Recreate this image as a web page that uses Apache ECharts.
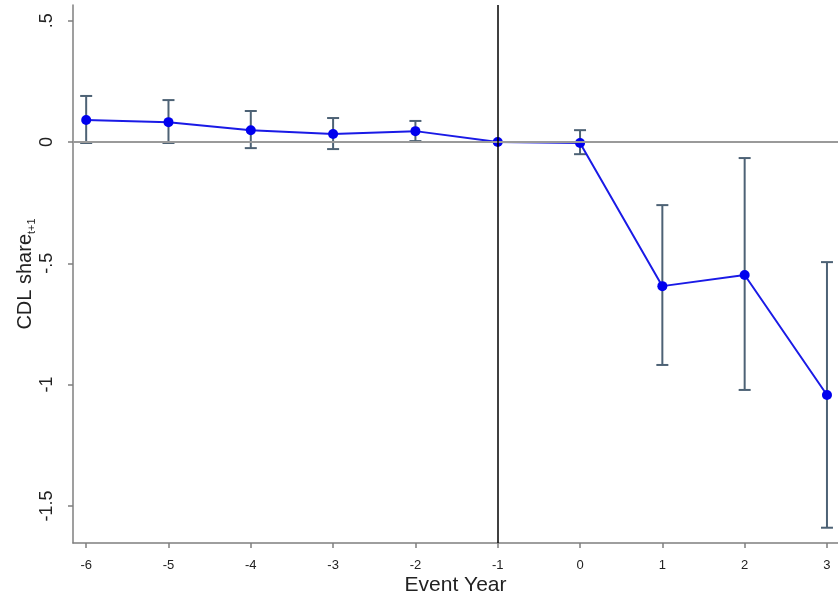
<!DOCTYPE html>
<html>
<head>
<meta charset="utf-8">
<script src="https://cdn.jsdelivr.net/npm/echarts@6/dist/echarts.min.js"></script>
<style>
html, body { margin: 0; padding: 0; background: #fff; }
#chart { width: 838px; height: 599px; }
</style>
</head>
<body>
<div id="chart"></div>
<script>
var years = [-6, -5, -4, -3, -2, -1, 0, 1, 2, 3];
var estimates = [0.091, 0.082, 0.049, 0.033, 0.045, 0, -0.004, -0.594, -0.548, -1.043];
var ciHigh = [0.190, 0.173, 0.128, 0.099, 0.087, null, 0.049, -0.260, -0.066, -0.495];
var ciLow = [-0.004, -0.004, -0.025, -0.029, 0.004, null, -0.050, -0.919, -1.022, -1.590];
var yTicks = [-1.5, -1, -0.5, 0, 0.5];

var font = 'Liberation Sans, Arial, Helvetica, sans-serif';

var ciData = [];
for (var i = 0; i < years.length; i++) {
    if (ciHigh[i] !== null) ciData.push([years[i], ciLow[i], ciHigh[i]]);
}

// stata style: .5 instead of 0.5
function stataNum(v) {
    var s = String(v);
    return s.replace(/^0\./, '.').replace(/^-0\./, '-.');
}

var myChart = echarts.init(document.getElementById('chart'));
var option = {
    animation: false,
    backgroundColor: '#fff',
    grid: {
        left: 73,
        right: 0,
        top: 5,
        bottom: 56,
        outerBoundsMode: 'none',
        containLabel: false
    },
    xAxis: {
        type: 'value',
        min: -6.16,
        max: 3.134,
        name: 'Event Year',
        nameLocation: 'middle',
        nameGap: 32,
        nameMoveOverlap: false,
        nameTextStyle: { fontFamily: font, fontSize: 21, color: '#222' },
        axisLine: { show: true, onZero: false, lineStyle: { color: '#7f7f7f', width: 1.5 } },
        axisTick: { show: true, length: 5, customValues: years, lineStyle: { color: '#7f7f7f', width: 1.5 } },
        axisLabel: { customValues: years, margin: 16, fontFamily: font, fontSize: 13, color: '#222' },
        splitLine: { show: false }
    },
    yAxis: {
        type: 'value',
        min: -1.653,
        max: 0.565,
        name: 'CDL share{sub|t+1}',
        nameLocation: 'middle',
        nameGap: 36,
        nameMoveOverlap: false,
        nameTextStyle: {
            fontFamily: font, fontSize: 20, color: '#222',
            rich: {
                sub: { fontFamily: font, fontSize: 11, color: '#222', padding: [12, 0, 0, 0] }
            }
        },
        axisLine: { show: true, onZero: false, lineStyle: { color: '#7f7f7f', width: 1.5 } },
        axisTick: { show: true, length: 5, customValues: yTicks, lineStyle: { color: '#7f7f7f', width: 1.5 } },
        axisLabel: {
            customValues: yTicks, rotate: 90, margin: 17,
            fontFamily: font, fontSize: 18, color: '#222',
            formatter: stataNum
        },
        splitLine: { show: false }
    },
    series: [{
        name: 'zero',
        type: 'line',
        data: [],
        z: 1,
        markLine: {
            silent: true,
            symbol: 'none',
            label: { show: false },
            lineStyle: { color: '#9a9a9a', width: 2, type: 'solid' },
            data: [{ yAxis: 0 }]
        }
    }, {
        name: 'ci',
        type: 'custom',
        z: 3,
        data: ciData,
        renderItem: function (params, api) {
            var x = api.value(0);
            var lo = api.coord([x, api.value(1)]);
            var hi = api.coord([x, api.value(2)]);
            var w = 6;
            var style = { stroke: '#4d6275', lineWidth: 2 };
            return {
                type: 'group',
                children: [
                    { type: 'line', shape: { x1: lo[0], y1: lo[1], x2: hi[0], y2: hi[1] }, style: style },
                    { type: 'line', shape: { x1: hi[0] - w, y1: hi[1], x2: hi[0] + w, y2: hi[1] }, style: style },
                    { type: 'line', shape: { x1: lo[0] - w, y1: lo[1], x2: lo[0] + w, y2: lo[1] }, style: style }
                ]
            };
        }
    }, {
        name: 'estimate',
        type: 'line',
        z: 4,
        data: years.map(function (y, i) { return [y, estimates[i]]; }),
        symbol: 'circle',
        symbolSize: 10,
        itemStyle: { color: '#0000ee' },
        lineStyle: { color: '#1a1ae6', width: 2 },
        markLine: {
            silent: true,
            symbol: 'none',
            label: { show: false },
            lineStyle: { color: '#000', width: 1.5, type: 'solid' },
            data: [{ xAxis: -1 }]
        }
    }]
};
myChart.setOption(option);
</script>
</body>
</html>
